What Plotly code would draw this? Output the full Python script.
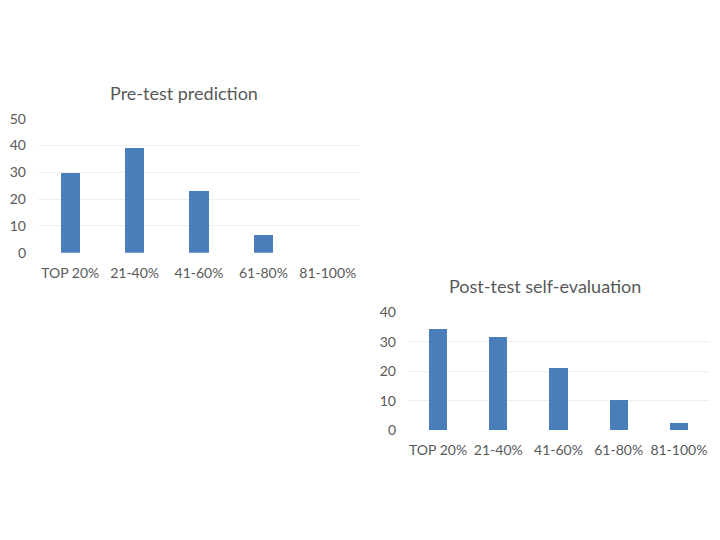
import plotly.graph_objects as go

categories = ["TOP 20%", "21-40%", "41-60%", "61-80%", "81-100%"]
pre_values = [30, 39.2, 23, 6.8, 0]
post_values = [34.1, 31.5, 20.9, 10.2, 2.3]
pre_title = "Pre-test prediction"
post_title = "Post-test self-evaluation"
pre_ticks = [0, 10, 20, 30, 40, 50]
post_ticks = [0, 10, 20, 30, 40]

BAR = "#4a7ebb"
TXT = "#595959"
GRID = "#efefef"
FONT = "Lato"

fig = go.Figure()
fig.add_trace(go.Bar(x=categories, y=pre_values, width=0.3, marker_color=BAR,
                     marker_line_width=0,
                     xaxis="x", yaxis="y", showlegend=False, hoverinfo="skip"))
fig.add_trace(go.Bar(x=categories, y=post_values, width=0.3, marker_color=BAR,
                     marker_line_width=0,
                     xaxis="x2", yaxis="y2", showlegend=False, hoverinfo="skip"))

W, H = 720, 540
def px(v): return v / W
def py(v): return 1 - v / H

xcommon = dict(showgrid=False, zeroline=False, showline=False, ticks="",
               ticklabelstandoff=10,
               tickfont=dict(family=FONT, size=14, color=TXT), fixedrange=True)
ycommon = dict(showgrid=True, gridcolor=GRID, gridwidth=1, zeroline=False,
               showline=False, ticks="", ticklabelstandoff=11,
               tickfont=dict(family=FONT, size=14, color=TXT),
               fixedrange=True)

fig.update_layout(
    width=W, height=H,
    margin=dict(l=0, r=0, t=0, b=0),
    paper_bgcolor="white", plot_bgcolor="white",
    bargap=0,
    xaxis=dict(domain=[px(38), px(360)], anchor="y", **xcommon),
    yaxis=dict(domain=[py(251.7), py(113.3)], range=[0, 50], tickvals=pre_ticks,
               anchor="x", **ycommon),
    xaxis2=dict(domain=[px(408), px(709)], anchor="y2", **xcommon),
    yaxis2=dict(domain=[py(435), py(313.3)], range=[0, 40], tickvals=post_ticks,
                anchor="x2", **ycommon),
    annotations=[
        dict(text=pre_title, x=px(184), y=py(87), xref="paper", yref="paper",
             showarrow=False, xanchor="center", yanchor="middle",
             font=dict(family=FONT, size=18, color=TXT)),
        dict(text=post_title, x=px(545), y=py(286), xref="paper", yref="paper",
             showarrow=False, xanchor="center", yanchor="middle",
             font=dict(family=FONT, size=18, color=TXT)),
    ],
)

fig.write_html("out.html", config={"displayModeBar": False},
               post_script="document.body.style.margin='0';")
